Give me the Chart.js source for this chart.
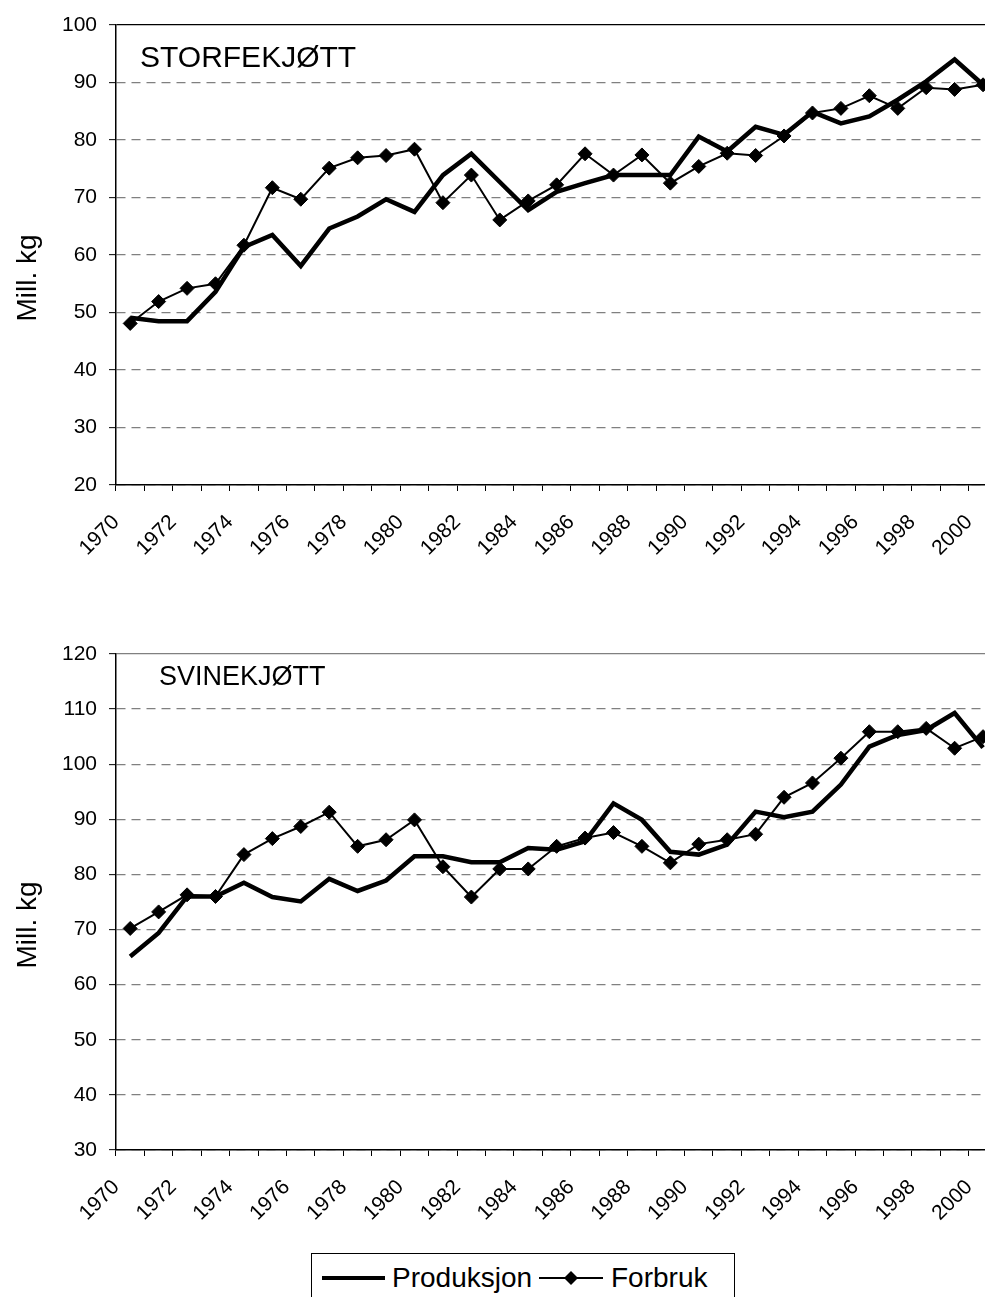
<!DOCTYPE html>
<html><head><meta charset="utf-8">
<script src="https://cdn.jsdelivr.net/npm/chart.js@4"></script>
<style>
html,body{margin:0;padding:0;background:#fff;overflow:hidden;width:985px;height:1297px;position:relative;}
#c1{position:absolute;left:0;top:0;}
#c2{position:absolute;left:0;top:620px;}
#legend{position:absolute;left:311px;top:1253px;width:424px;height:60px;border:1px solid #000;box-sizing:border-box;font-family:"Liberation Sans",Arial,sans-serif;font-size:28px;color:#000;background:#fff;}
#legend .it{position:absolute;top:0;height:48px;display:flex;align-items:center;}
</style></head><body>
<canvas id="c1" width="1020" height="620"></canvas>
<canvas id="c2" width="1020" height="677"></canvas>
<div id="legend">
  <div class="it" style="left:10px"><svg width="63" height="14"><line x1="0" y1="7" x2="63" y2="7" stroke="#000" stroke-width="4"/></svg><span style="margin-left:7px">Produksjon</span></div>
  <div class="it" style="left:227px"><svg width="64" height="16"><line x1="0" y1="8" x2="64" y2="8" stroke="#000" stroke-width="2"/><polygon points="25,8 32,1 39,8 32,15" fill="#000"/></svg><span style="margin-left:8px">Forbruk</span></div>
</div>
<script>
const FONT = "'Liberation Sans', Arial, sans-serif";

const years = ['1970','1971','1972','1973','1974','1975','1976','1977','1978','1979',
  '1980','1981','1982','1983','1984','1985','1986','1987','1988','1989',
  '1990','1991','1992','1993','1994','1995','1996','1997','1998','1999','2000'];
const xTickLabels = ['1970','1972','1974','1976','1978','1980','1982','1984','1986','1988',
  '1990','1992','1994','1996','1998','2000'];

const storfeProduksjon = [49.1, 48.5, 48.5, 53.6, 61.4, 63.5, 58.1, 64.6, 66.7, 69.7,
  67.5, 73.9, 77.6, 72.7, 67.8, 71.0, 72.5, 73.9, 73.9, 73.9,
  80.6, 78.0, 82.3, 80.9, 84.9, 82.9, 84.1, 87.0, 90.2, 94.0, 89.6];
const storfeForbruk = [48.1, 51.9, 54.2, 55.0, 61.7, 71.7, 69.7, 75.1, 76.9, 77.3,
  78.4, 69.1, 73.9, 66.1, 69.4, 72.2, 77.6, 73.9, 77.4, 72.5,
  75.4, 77.7, 77.3, 80.7, 84.7, 85.5, 87.7, 85.5, 89.1, 88.8, 89.6];
const svineProduksjon = [65.1, 69.4, 76.0, 76.0, 78.5, 75.9, 75.1, 79.2, 77.0, 78.9,
  83.3, 83.3, 82.2, 82.2, 84.8, 84.5, 86.0, 92.9, 89.9, 84.1,
  83.6, 85.4, 91.4, 90.4, 91.4, 96.3, 103.2, 105.3, 106.2, 109.3, 103.0];
const svineForbruk = [70.2, 73.2, 76.3, 76.0, 83.6, 86.5, 88.7, 91.3, 85.1, 86.3,
  89.9, 81.4, 75.9, 81.0, 81.0, 85.1, 86.6, 87.6, 85.1, 82.1,
  85.5, 86.3, 87.3, 94.0, 96.6, 101.1, 105.9, 105.9, 106.5, 102.9, 105.0];

const storfeY = {min: 20, max: 100, step: 10};
const svineY = {min: 30, max: 120, step: 10};

const overlay = {
  id: 'overlay',
  afterDraw(chart, args, opts) {
    const ctx = chart.ctx, a = chart.chartArea;
    ctx.save();
    ctx.fillStyle = '#000';
    ctx.font = opts.size + 'px ' + FONT;
    ctx.textAlign = 'left';
    ctx.textBaseline = 'alphabetic';
    ctx.fillText(opts.title, opts.tx, opts.ty);
    ctx.font = '28px ' + FONT;
    ctx.translate(28, (a.top + a.bottom) / 2 + 23);
    ctx.rotate(-Math.PI / 2);
    ctx.textAlign = 'center';
    ctx.textBaseline = 'middle';
    ctx.fillText('Mill. kg', 0, 0);
    ctx.restore();
  }
};

function makeChart(id, prod, forb, yr, title, tsize, tx, ty, areaTop, areaBottom, canvasH, topColor) {
  const xAxisH = canvasH - areaBottom;
  return new Chart(document.getElementById(id), {
    type: 'line',
    data: {
      labels: years,
      datasets: [
        {label: 'Forbruk', data: forb, borderColor: '#000', borderWidth: 2, pointStyle: 'rectRot',
          pointRadius: 7, pointBackgroundColor: '#000', pointBorderColor: '#000', pointBorderWidth: 1,
          tension: 0, order: 0},
        {label: 'Produksjon', data: prod, borderColor: '#000', borderWidth: 4.5, pointRadius: 0,
          tension: 0, order: 1, borderJoinStyle: 'miter'}
      ]
    },
    options: {
      responsive: false, animation: false, devicePixelRatio: 1,
      layout: {padding: {top: areaTop, right: 4, left: 0, bottom: 0}},
      plugins: {legend: {display: false}, tooltip: {enabled: false},
        overlay: {title: title, size: tsize, tx: tx, ty: ty}},
      scales: {
        x: {
          offset: true,
          grid: {offset: true, drawOnChartArea: false, drawTicks: true, tickLength: 6, tickColor: '#000', tickWidth: 1},
          border: {color: '#000', width: 1.5},
          ticks: {autoSkip: false, maxRotation: 45, minRotation: 45, padding: 19, labelOffset: -14,
            color: '#000', font: {family: FONT, size: 21},
            callback: (v, i) => xTickLabels.includes(years[i]) ? years[i] : ''},
          afterFit: (s) => { s.height = xAxisH; }
        },
        y: {
          min: yr.min, max: yr.max,
          ticks: {stepSize: yr.step, padding: 12, color: '#000', font: {family: FONT, size: 21}},
          grid: {
            color: (c) => (c.tick && c.tick.value === yr.max) ? topColor : '#808080',
            lineWidth: 1.3, tickLength: 7, tickColor: '#000', tickWidth: 1, tickBorderDash: [0, 0]
          },
          border: {color: '#000', width: 1.5,
            dash: (c) => (c.tick && c.tick.value === yr.max) ? [] : [9, 6]},
          afterFit: (s) => { s.width = 116; }
        }
      }
    },
    plugins: [overlay]
  });
}

makeChart('c1', storfeProduksjon, storfeForbruk, storfeY, 'STORFEKJØTT', 30, 140, 67, 25, 485, 620, '#000');
makeChart('c2', svineProduksjon, svineForbruk, svineY, 'SVINEKJØTT', 27, 159, 65, 34, 530, 677, '#808080');
</script>
</body></html>
